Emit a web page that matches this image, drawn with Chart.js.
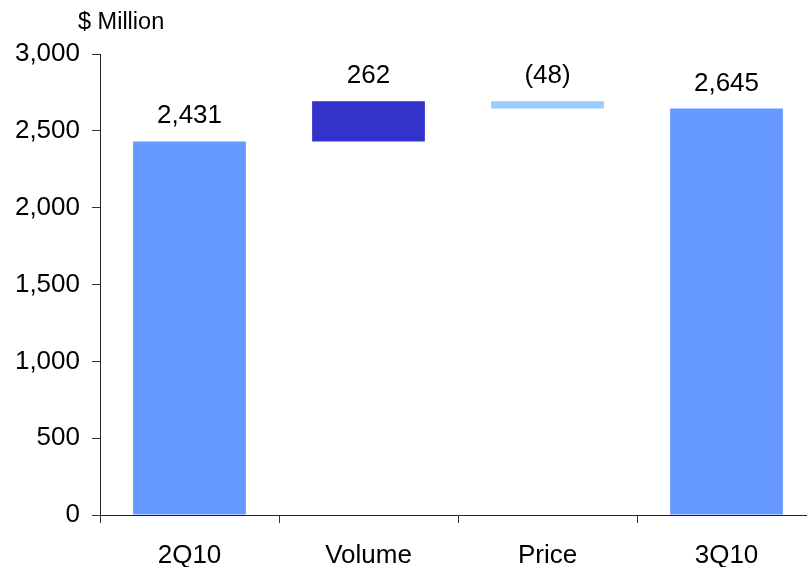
<!DOCTYPE html>
<html>
<head>
<meta charset="utf-8">
<script src="https://cdn.jsdelivr.net/npm/chart.js@4"></script>
<style>
  html, body { margin: 0; padding: 0; background: #fff; overflow: hidden; }
  #wrap { width: 807px; height: 567px; overflow: hidden; }
</style>
</head>
<body>
<div id="wrap"><canvas id="bridge" width="816" height="567"></canvas></div>
<script>
// Revenue bridge, $ Million
const categories = ["2Q10", "Volume", "Price", "3Q10"];
const amounts = [2431, 262, -48, 2645];
const isTotal = [true, false, false, true];
const valueLabels = ["2,431", "262", "(48)", "2,645"];
const barColors = ["#6699FF", "#3333CC", "#99CCFF", "#6699FF"];
const yTicks = [0, 500, 1000, 1500, 2000, 2500, 3000];

const FONT = "'Liberation Sans', Arial, sans-serif";

// floating [from, to] ranges for the waterfall
let running = 0;
const ranges = amounts.map((v, i) => {
    if (isTotal[i]) {
        running = v;
        return [0, v];
    }
    const from = running;
    running += v;
    return [Math.min(from, running), Math.max(from, running)];
});

const labelPlugin = {
    id: "barLabels",
    afterDatasetsDraw(chart) {
        const ctx = chart.ctx;
        const meta = chart.getDatasetMeta(0);
        ctx.save();
        ctx.fillStyle = "#000";
        ctx.font = "26px " + FONT;
        ctx.textAlign = "center";
        ctx.textBaseline = "alphabetic";
        meta.data.forEach((bar, i) => {
            const top = chart.scales.y.getPixelForValue(ranges[i][1]);
            ctx.fillText(valueLabels[i], bar.x, top - 18);
        });
        // unit caption
        ctx.font = "23.5px " + FONT;
        ctx.textAlign = "left";
        ctx.fillText("$ Million", 78, 29);
        ctx.restore();
    }
};

new Chart(document.getElementById("bridge"), {
    type: "bar",
    data: {
        labels: categories,
        datasets: [{
            data: ranges,
            backgroundColor: barColors,
            borderColor: barColors,
            borderWidth: 0,
            barPercentage: 0.63,
            categoryPercentage: 1
        }]
    },
    options: {
        responsive: false,
        animation: false,
        layout: { padding: { top: 54, right: 0, left: 0, bottom: 0 } },
        plugins: {
            legend: { display: false },
            tooltip: { enabled: false }
        },
        scales: {
            x: {
                grid: {
                    drawOnChartArea: false,
                    tickLength: 8,
                    color: "#333",
                    offset: true
                },
                border: { color: "#222", width: 1 },
                ticks: {
                    color: "#000",
                    font: { family: FONT, size: 26 },
                    padding: 17,
                    maxRotation: 0
                },
                afterFit(scale) { scale.height = 52; }
            },
            y: {
                min: 0,
                max: 3000,
                afterBuildTicks(scale) {
                    scale.ticks = yTicks.map(v => ({ value: v }));
                },
                grid: {
                    drawOnChartArea: false,
                    tickLength: 8,
                    color: "#333"
                },
                border: { color: "#222", width: 1 },
                ticks: {
                    color: "#000",
                    font: { family: FONT, size: 26 },
                    padding: 12,
                    callback: v => v.toLocaleString("en-US")
                },
                afterFit(scale) { scale.width = 100; }
            }
        }
    },
    plugins: [labelPlugin]
});
</script>
</body>
</html>
